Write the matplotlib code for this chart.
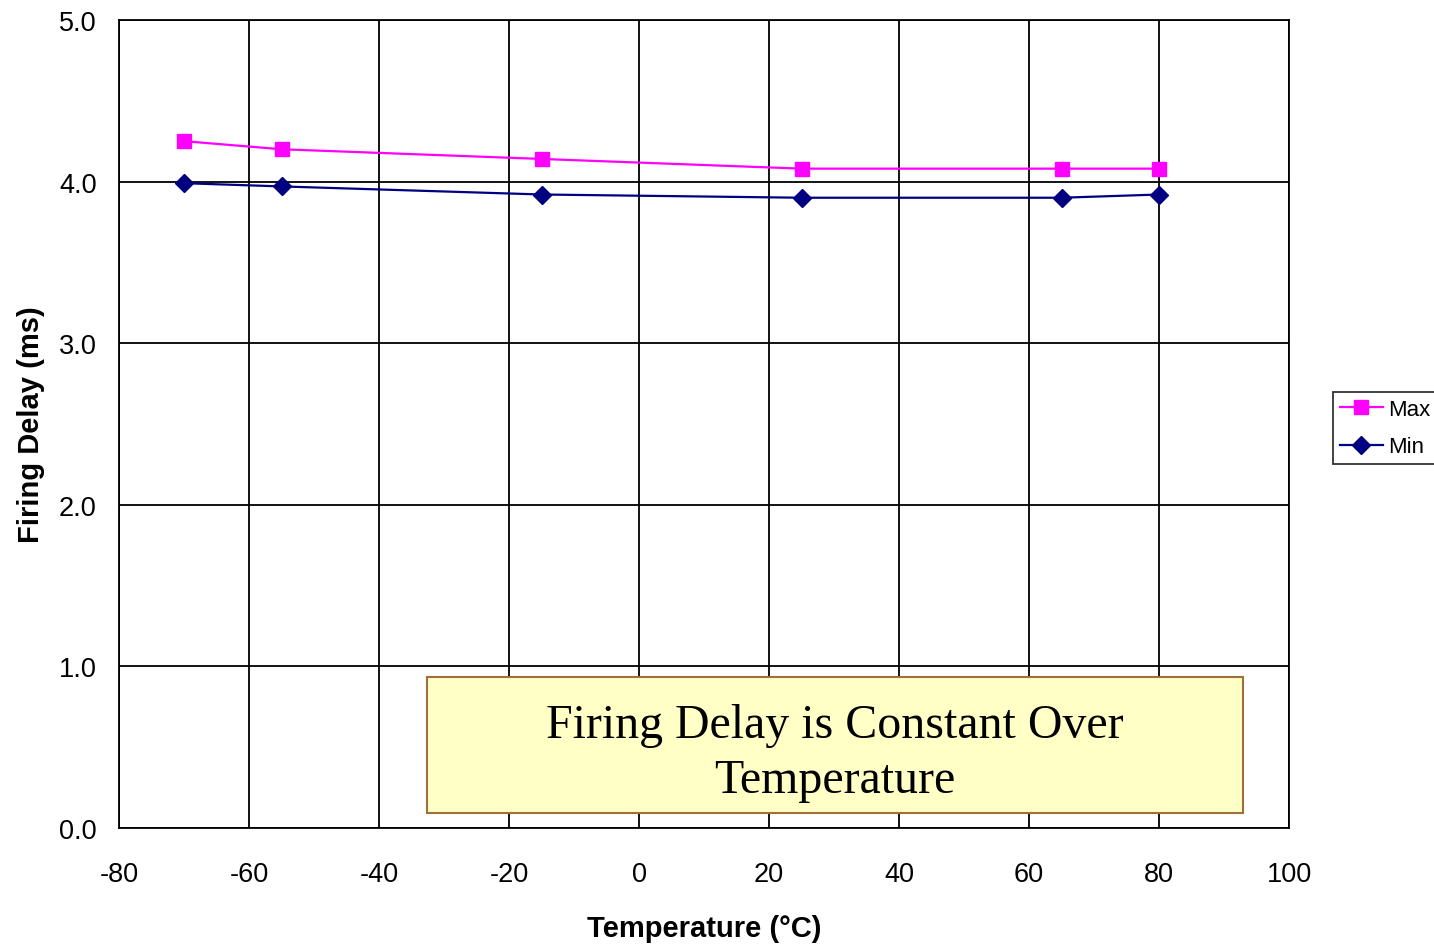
import matplotlib
matplotlib.use("Agg")
import matplotlib.pyplot as plt
from matplotlib.patches import Rectangle

# temperatures (deg C) and firing delay (ms)
temps = [-70, -55, -15, 25, 65, 80]
delay_max = [4.25, 4.20, 4.14, 4.08, 4.08, 4.08]
delay_min = [3.99, 3.97, 3.92, 3.90, 3.90, 3.92]

xticks = [-80, -60, -40, -20, 0, 20, 40, 60, 80, 100]
yticks = [0.0, 1.0, 2.0, 3.0, 4.0, 5.0]

plt.rcParams['font.family'] = ['Liberation Sans', 'DejaVu Sans']
plt.rcParams['axes.unicode_minus'] = False

fig = plt.figure(figsize=(14.34, 9.45), dpi=100)
ax = fig.add_axes([0.083, 0.1228, 0.816, 0.855])

ax.plot(temps, delay_max, color='#FF00FF', linewidth=1.6, marker='s',
        markersize=10, markerfacecolor='#FF00FF', markeredgecolor='#FF00FF',
        label='Max', zorder=4)
ax.plot(temps, delay_min, color='#000080', linewidth=1.6, marker='D',
        markersize=9, markerfacecolor='#000080', markeredgecolor='#000080',
        label='Min', zorder=4)

ax.set_xlim(-80, 100)
ax.set_ylim(0, 5)
ax.set_xticks(xticks)
ax.set_yticks(yticks)
ax.set_yticklabels(['%.1f' % v for v in yticks])
ax.grid(True, color='black', linewidth=1.3)
ax.set_axisbelow(True)
for s in ax.spines.values():
    s.set_linewidth(1.3)
ax.tick_params(length=0, labelsize=19.5)
ax.tick_params(axis='x', pad=24)
ax.tick_params(axis='y', pad=16)

ax.set_xlabel('Temperature (°C)', fontsize=21, fontweight='bold', labelpad=19)
ax.set_ylabel('Firing Delay (ms)', fontsize=21, fontweight='bold', labelpad=10)

# text box
box = Rectangle((0.263, 0.0186), 0.6977, 0.1684, transform=ax.transAxes,
                facecolor='#FFFFC6', edgecolor='#A0703A', linewidth=1.5, zorder=5)
ax.add_patch(box)
ax.text(0.612, 0.093, 'Firing Delay is Constant Over\nTemperature',
        transform=ax.transAxes, ha='center', va='center', fontsize=34.5,
        family=['Liberation Serif', 'DejaVu Serif'], linespacing=1.33, zorder=6)

leg = fig.legend(loc='center left', bbox_to_anchor=(0.9295, 0.546), fontsize=16,
                 frameon=True, fancybox=False, edgecolor='black', handlelength=1.95,
                 handletextpad=0.25, borderpad=0.3, labelspacing=0.75, borderaxespad=0)
leg.get_frame().set_linewidth(1.3)

fig.savefig('out.png', dpi=100)
